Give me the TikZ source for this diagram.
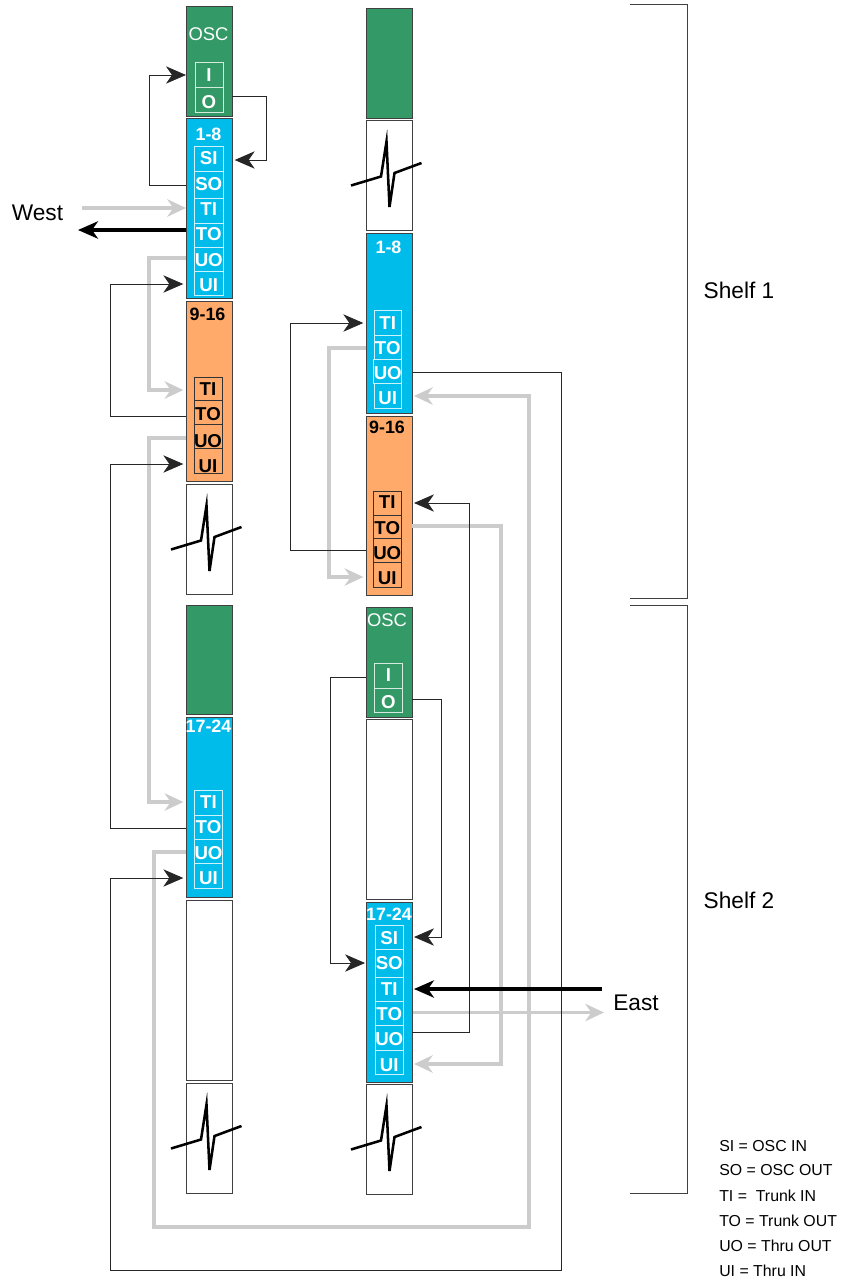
\documentclass[tikz,border=0pt]{standalone}
\usepackage{fontspec}
\setmainfont{Liberation Sans}
\usetikzlibrary{arrows.meta}
\definecolor{oscg}{HTML}{339966}
\definecolor{bandb}{HTML}{00BCEB}
\definecolor{bando}{HTML}{FFAA6A}
\definecolor{edge}{HTML}{404040}
\definecolor{lgray}{HTML}{CCCCCC}
\tikzset{
 x=0.75pt,y=-0.75pt,
 card/.style={draw=edge,line width=.75pt,inner sep=0pt,outer sep=0pt},
 oscbox/.style={card,fill=oscg},
 bluebox/.style={card,fill=bandb},
 orgbox/.style={card,fill=bando},
 whitebox/.style={card,fill=white},
 wport/.style={draw=white!80!bandb,line width=.6pt,inner sep=0pt,outer sep=0pt,text=white,font=\fontsize{14}{14}\selectfont\bfseries},
 gport/.style={draw=white!80!oscg,line width=.6pt,inner sep=0pt,outer sep=0pt,text=white,font=\fontsize{14}{14}\selectfont\bfseries},
 kport/.style={draw=black!80,line width=.6pt,inner sep=0pt,outer sep=0pt,text=black,font=\fontsize{14}{14}\selectfont\bfseries},
 wtitle/.style={text=white,inner sep=0pt,font=\fontsize{13.4}{14}\selectfont\bfseries},
 ktitle/.style={text=black,inner sep=0pt,font=\fontsize{13.4}{14}\selectfont\bfseries},
 osctitle/.style={text=white,inner sep=0pt,font=\fontsize{13.8}{15}\selectfont},
 side/.style={inner sep=0pt,font=\fontsize{17}{19}\selectfont},
 legend/.style={inner sep=0pt,anchor=west,font=\fontsize{11.9}{13}\selectfont},
 blk/.style={draw=black!85,line width=.7pt,-{Stealth[length=15pt,width=13pt,inset=4.5pt]}},
 gry/.style={draw=lgray,line width=2.3pt,-{Stealth[length=14pt,width=13pt,inset=4.5pt]}},
 heavyblk/.style={draw=black,line width=2.3pt,-{Stealth[length=15pt,width=13pt,inset=4.5pt]}},
 bracket/.style={draw=edge,line width=.6pt},
 breakline/.style={draw=black,line width=1.9pt,line join=miter},
}
\newcommand\bx[6]{%
 \pgfmathsetmacro\cx{(#3+#5)/2}\pgfmathsetmacro\cy{(#4+#6)/2}%
 \pgfmathsetmacro\ww{(#5-#3)*0.75}\pgfmathsetmacro\hh{(#6-#4)*0.75}%
 \node[#2,minimum width=\ww pt,minimum height=\hh pt] (#1) at (\cx,\cy) {};}
% name, style, x1, y1, x2, y2, text, y of the text's middle
\newcommand\prt[8]{%
 \pgfmathsetmacro\cx{(#3+#5)/2}\pgfmathsetmacro\cy{(#4+#6)/2}%
 \pgfmathsetmacro\ww{(#5-#3)*0.75}\pgfmathsetmacro\hh{(#6-#4)*0.75}%
 \pgfmathsetmacro\dd{(#8-\cy)*0.75+5}%
 \node[#2,minimum width=\ww pt,minimum height=\hh pt] (#1) at (\cx,\cy) {\smash{\raisebox{-\dd pt}{#7}}};}
\newcommand\brk[1]{\draw[breakline,shift={(#1.center)}] (-38,10.5) -- (-8,1.5) -- (-2.5,-33.5) -- (0.5,32) -- (5.5,-2) -- (32.5,-12);}
\begin{document}
\begin{tikzpicture}
\useasboundingbox (0,0) rectangle (840,1282);
% left column
\bx{a0}{oscbox}{186}{6}{232}{116}
\bx{a1}{bluebox}{186}{118.5}{232}{298}
\bx{a2}{orgbox}{186}{301}{232}{481}
\bx{a3}{whitebox}{186}{484}{232}{594}
\bx{a4}{oscbox}{186}{605}{232}{714}
\bx{a5}{bluebox}{186}{717}{232}{897}
\bx{a6}{whitebox}{186}{900}{232}{1080}
\bx{a7}{whitebox}{186}{1083}{232}{1193}
% right column
\bx{b0}{oscbox}{366}{8}{412}{118}
\bx{b1}{whitebox}{366}{120}{412}{230}
\bx{b2}{bluebox}{366}{233}{412}{413}
\bx{b3}{orgbox}{366}{416}{412}{595}
\bx{b4}{oscbox}{366}{607}{412}{717}
\bx{b5}{whitebox}{366}{719}{412}{899}
\bx{b6}{bluebox}{366}{902}{412}{1082}
\bx{b7}{whitebox}{366}{1084}{412}{1194}
% titles
\node[osctitle] (t0) at (208.5,34) {OSC};
\node[wtitle] (t1) at (208.5,134) {1-8};
\node[ktitle] (t2) at (207.5,314) {9-16};
\node[wtitle] (t3) at (208.5,726) {17-24};
\node[wtitle] (t4) at (388.5,247) {1-8};
\node[ktitle] (t5) at (387,427) {9-16};
\node[osctitle] (t6) at (387,620.5) {OSC};
\node[wtitle] (t7) at (389,914) {17-24};
% ports
\prt{a0i}{gport}{195}{62.3}{223}{87.7}{I}{75}
\prt{a0o}{gport}{195}{87.7}{223}{112}{O}{101.7}
\prt{a1si}{wport}{194.5}{146}{223}{171}{SI}{158}
\prt{a1so}{wport}{194.5}{171}{223}{198}{SO}{184}
\prt{a1ti}{wport}{194.5}{198}{223}{223}{TI}{209}
\prt{a1to}{wport}{194.5}{223}{223}{247}{TO}{234}
\prt{a1uo}{wport}{194.5}{247}{223}{271}{UO}{260}
\prt{a1ui}{wport}{194.5}{271}{223}{295}{UI}{285}
\prt{a2ti}{kport}{194}{377}{222}{400}{TI}{389}
\prt{a2to}{kport}{194}{400}{222}{424}{TO}{414}
\prt{a2uo}{kport}{194}{424}{222}{448}{UO}{441}
\prt{a2ui}{kport}{194}{448}{222}{473}{UI}{466}
\prt{a5ti}{wport}{194.3}{790.7}{222.7}{815}{TI}{801.7}
\prt{a5to}{wport}{194.3}{815}{222.7}{839.3}{TO}{827.3}
\prt{a5uo}{wport}{194.3}{839.3}{222.7}{863.7}{UO}{852.7}
\prt{a5ui}{wport}{194.3}{863.7}{222.7}{888.3}{UI}{878.3}
\prt{b2ti}{wport}{374}{310.7}{401.5}{335}{TI}{322.7}
\prt{b2to}{wport}{374}{335}{401.5}{359.3}{TO}{347.7}
\prt{b2uo}{wport}{374}{359.3}{401.5}{383.3}{UO}{372.7}
\prt{b2ui}{wport}{374}{383.3}{401.5}{408.3}{UI}{397.7}
\prt{b3ti}{kport}{373.5}{491.7}{401}{515}{TI}{502.3}
\prt{b3to}{kport}{373.5}{515}{401}{538.7}{TO}{527.7}
\prt{b3uo}{kport}{373.5}{538.7}{401}{562.7}{UO}{552.7}
\prt{b3ui}{kport}{373.5}{562.7}{401}{587.3}{UI}{578.3}
\prt{b4i}{gport}{374.3}{663.3}{402.7}{688.3}{I}{675}
\prt{b4o}{gport}{374.3}{688.3}{402.7}{712.7}{O}{701.7}
\prt{b6si}{wport}{375.5}{925}{403}{949.3}{SI}{938.3}
\prt{b6so}{wport}{375.5}{949.3}{403}{977.3}{SO}{963.3}
\prt{b6ti}{wport}{375.5}{977.3}{403}{1001.7}{TI}{989.3}
\prt{b6to}{wport}{375.5}{1001.7}{403}{1025.7}{TO}{1014.3}
\prt{b6uo}{wport}{375.5}{1025.7}{403}{1050}{UO}{1039.3}
\prt{b6ui}{wport}{375.5}{1050}{403}{1074.3}{UI}{1065}
% break marks
\brk{a3}\brk{a7}\brk{b1}\brk{b7}
% free ends
\coordinate (westin) at (82,208);
\coordinate (westout) at (78,230);
\coordinate (eastin) at (602,989);
\coordinate (eastout) at (604,1012.5);
% grey connectors
\draw[gry] (westin) -- (a1.west |- westin);
\draw[gry] (a1.west |- 0,258) -- ++(-37,0) |- ([xshift=-2pt]a2.west |- 0,390);
\draw[gry] (a2.west |- 0,438) -- ++(-37,0) |- ([xshift=-2pt]a5.west |- 0,802);
\draw[gry] (a5.west |- 0,852) -- ++(-32,0) -- ++(0,375) -- ++(375,0) |- ([xshift=1.5pt]b2.east |- 0,396);
\draw[gry] (b2.west |- 0,348) -- ++(-37,0) |- ([xshift=-2pt]b3.west |- 0,577);
\draw[gry] (b3.east |- 0,526) -- ++(89,0) |- ([xshift=1.5pt]b6.east |- 0,1064);
\draw[gry] ([xshift=1pt]b6.east |- eastout) -- (eastout);
% black connectors
\draw[blk] (a1.west |- 0,185) -- ++(-37,0) |- (a0.west |- 0,75);
\draw[blk] (a0.east |- 0,96) -- ++(34,0) |- ([xshift=2pt]a1.east |- 0,160);
\draw[blk] (a2.west |- 0,416) -- ++(-76,0) |- ([xshift=-2pt]a1.west |- 0,284);
\draw[blk] (a5.west |- 0,828) -- ++(-76,0) |- ([xshift=-2pt]a2.west |- 0,464);
\draw[blk] ([xshift=1pt]b2.east |- 0,372) -- ++(148,0) -- ++(0,898) -- ++(-451,0) |- ([xshift=-2pt]a5.west |- 0,878);
\draw[blk] (b3.west |- 0,550) -- ++(-76,0) |- ([xshift=-2pt]b2.west |- 0,323);
\draw[blk] (b4.west |- 0,677) -- ++(-36,0) |- ([xshift=-.7pt]b6.west |- 0,963);
\draw[blk] (b4.east |- 0,699) -- ++(29,0) |- ([xshift=1.5pt]b6.east |- 0,937);
\draw[blk] (b6.east |- 0,1032) -- ++(57,0) |- ([xshift=1.5pt]b3.east |- 0,503);
\draw[heavyblk] (a1.west |- westout) -- (westout);
\draw[heavyblk] (eastin) -- ([xshift=1.5pt]b6.east |- eastin);
% brackets
\draw[bracket] (630,4) -- (687,4) -- (687,598) -- (630,598);
\draw[bracket] (630,605) -- (687,605) -- (687,1193) -- (630,1193);
% labels
\node[side] (lw) at (37.5,213) {West};
\node[side] (le) at (636,1002.5) {East};
\node[side] (ls1) at (739,290) {Shelf 1};
\node[side] (ls2) at (739,900) {Shelf 2};
\node[legend] (k1) at (719,1146) {SI = OSC IN};
\node[legend] (k2) at (719,1170.5) {SO = OSC OUT};
\node[legend] (k3) at (719,1195.5) {TI =\ \ Trunk IN};
\node[legend] (k4) at (719,1221) {TO = Trunk OUT};
\node[legend] (k5) at (719,1246) {UO = Thru OUT};
\node[legend] (k6) at (719,1271) {UI = Thru IN};
\end{tikzpicture}
\end{document}
